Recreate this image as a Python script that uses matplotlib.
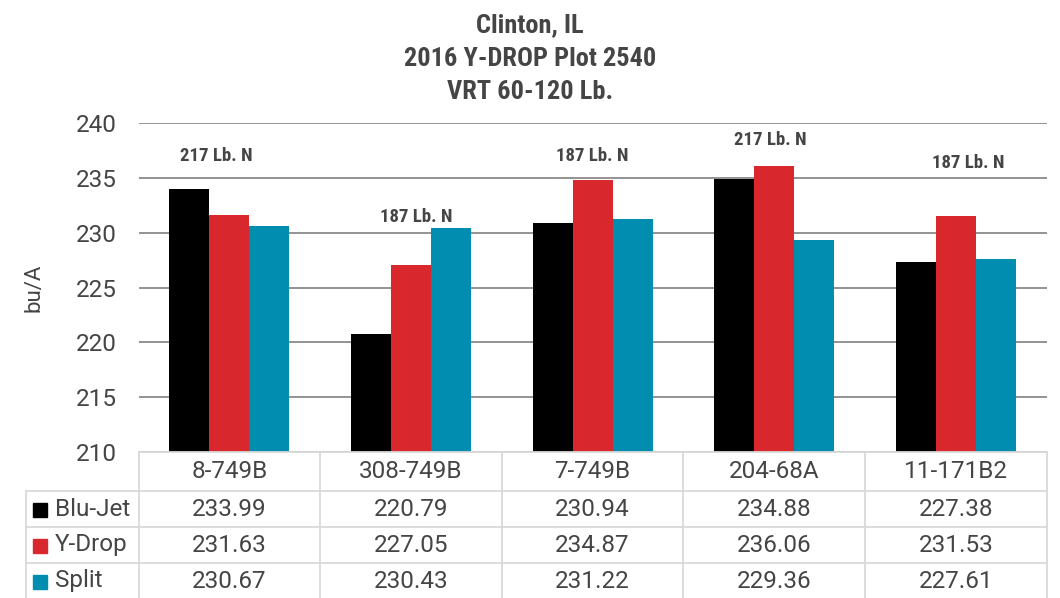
import matplotlib
matplotlib.use('Agg')
import matplotlib.pyplot as plt
from matplotlib import font_manager
from matplotlib.patches import Rectangle

# data
categories = ['8-749B', '308-749B', '7-749B', '204-68A', '11-171B2']
series_names = ['Blu-Jet', 'Y-Drop', 'Split']
blu_jet = [233.99, 220.79, 230.94, 234.88, 227.38]
y_drop = [231.63, 227.05, 234.87, 236.06, 231.53]
split = [230.67, 230.43, 231.22, 229.36, 227.61]
n_labels = ['217 Lb. N', '187 Lb. N', '187 Lb. N', '217 Lb. N', '187 Lb. N']
n_label_y = [237.06, 231.49, 237.01, 238.52, 236.42]
n_label_dx = [-0.07, 0.03, 0.0, -0.02, 0.07]

colors = ['#000000', '#d9272e', '#008db0']
txt_col = '#454545'

names = {f.name for f in font_manager.fontManager.ttflist}
cond = 'DejaVu Sans'
for cand in ['Roboto Condensed', 'Open Sans Condensed', 'Liberation Sans Narrow', 'Roboto']:
    if cand in names:
        cond = cand
        break
reg = 'Roboto' if 'Roboto' in names else 'DejaVu Sans'
plt.rcParams['font.family'] = [reg, 'DejaVu Sans']

W, H = 1060, 598
fig = plt.figure(figsize=(W / 100, H / 100), dpi=100)

left_px, right_px = 138.6, 1046.6
top_px, base_px = 123.3, 452.0
ax = fig.add_axes([left_px / W, 1 - base_px / H, (right_px - left_px) / W, (base_px - top_px) / H])

n = len(categories)
width = 0.22
x = list(range(n))
all_series = [blu_jet, y_drop, split]
for i, vals in enumerate(all_series):
    ax.bar([xi + (i - 1) * width for xi in x], [v - 210 for v in vals], width,
           bottom=210, color=colors[i], zorder=3, linewidth=0)

ax.set_xlim(-0.5, n - 0.5)
ax.set_ylim(210, 240)
ax.set_yticks(range(210, 241, 5))
ax.set_xticks([])
ax.grid(axis='y', color='#808080', linewidth=1.2, zorder=0)
for s in ax.spines.values():
    s.set_visible(False)
ax.tick_params(axis='y', length=0, pad=16, labelsize=17.5, labelcolor=txt_col)
ax.set_ylabel('bu/A', fontsize=16, color=txt_col, labelpad=22)

for i in range(n):
    ax.text(x[i] + n_label_dx[i], n_label_y[i], n_labels[i], ha='center', va='center',
            fontsize=13.5, fontweight='bold', color=txt_col, family=cond)

titles = ['Clinton, IL', '2016 Y-DROP Plot 2540', 'VRT 60-120 Lb.']
for t, yp in zip(titles, [25, 59, 92]):
    fig.text(530 / W, 1 - yp / H, t, ha='center', va='center',
             fontsize=19, fontweight='bold', color=txt_col, family=cond)

# data table below the plot
tab = fig.add_axes([left_px / W, 0, (right_px - left_px) / W, 1 - base_px / H])
tab.set_xlim(-0.5, n - 0.5)
tab.set_ylim(H - base_px, 0)
tab.axis('off')
unit = (right_px - left_px) / n
leg_left = -0.5 - (left_px - 26.4) / unit
rows = [0, 39, 75, 111, 147]
lc = '#d9d9d9'
lw = 1.3
# horizontal lines
tab.plot([-0.5, n - 0.5], [rows[0], rows[0]], color=lc, lw=lw, clip_on=False)
for r in rows[1:]:
    tab.plot([leg_left, n - 0.5], [r, r], color=lc, lw=lw, clip_on=False)
# vertical lines
for k in range(n + 1):
    tab.plot([k - 0.5, k - 0.5], [rows[0], rows[-1]], color=lc, lw=lw, clip_on=False)
tab.plot([leg_left, leg_left], [rows[1], rows[-1]], color=lc, lw=lw, clip_on=False)

for k, c in enumerate(categories):
    tab.text(k, (rows[0] + rows[1]) / 2, c, ha='center', va='center', fontsize=17.5, color=txt_col)
sq = 14.5
for j, name in enumerate(series_names):
    yc = (rows[j + 1] + rows[j + 2]) / 2
    sx = leg_left + (33 - 26.4) / unit
    tab.add_patch(Rectangle((sx, yc - sq / 2 + 1), sq / unit, sq, color=colors[j], clip_on=False))
    tab.text(leg_left + (55 - 26.4) / unit, yc, name, ha='left', va='center', fontsize=17.5, color=txt_col)
    for k in range(n):
        tab.text(k, yc, f'{all_series[j][k]:.2f}', ha='center', va='center', fontsize=17.5, color=txt_col)

fig.savefig('out.png', dpi=100)
